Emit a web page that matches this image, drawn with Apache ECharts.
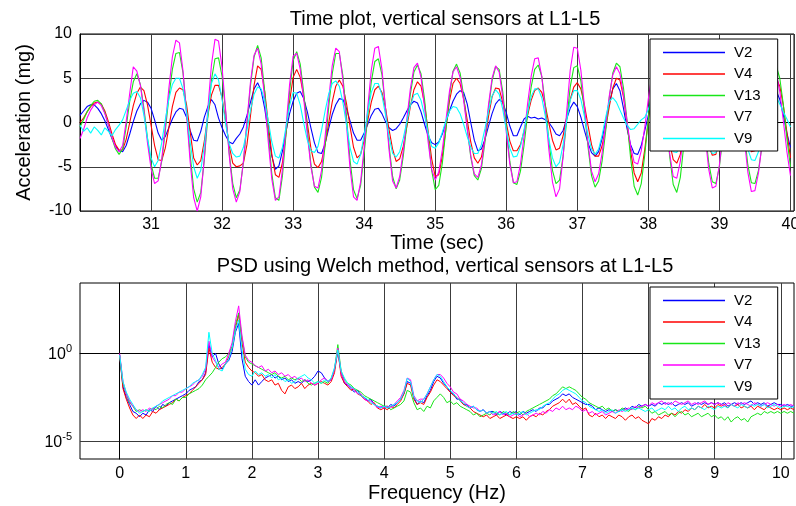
<!DOCTYPE html>
<html>
<head>
<meta charset="utf-8">
<script src="https://cdn.jsdelivr.net/npm/echarts@6/dist/echarts.min.js"></script>
<style>
  html, body { margin: 0; padding: 0; background: #fff; }
  #chart { width: 796px; height: 506px; }
</style>
</head>
<body>
<div id="chart"></div>
<script>
var sensorNames = ['V2', 'V4', 'V13', 'V7', 'V9']
var sensorColors = ['#0000ff', '#ff0000', '#19e619', '#ff00ff', '#00ffff']

// time plot: acceleration (mg), one sample every 0.05 s starting at 30 s
var timeStart = 30
var timeStep = 0.05
var timeTicks = [31, 32, 33, 34, 35, 36, 37, 38, 39, 40]
var accelTicks = [-10, -5, 0, 5, 10]

var accV2 = [
  0.8, 1.3, 1.8, 2.0, 2.0, 1.6, 1.0, 0.2, -0.8, -1.8, -2.7, -3.2, -3.3, -2.6, -1.3, 0.1, 1.3, 2.1, 2.5, 2.3,
  1.6, 0.3, -1.2, -2.0, -1.6, -0.6, 0.4, 1.2, 1.6, 1.5, 0.6, -0.9, -2.0, -2.1, -1.0, 0.6, 1.8, 2.6, 2.0, 0.5,
  -0.6, -1.5, -2.2, -2.4, -1.8, -1.3, -0.5, 0.8, 2.3, 3.8, 4.5, 3.6, 1.6, -1.2, -3.8, -5.3, -4.9, -3.2, -1.0, 1.0,
  2.4, 3.3, 3.5, 2.7, 1.2, -0.6, -2.3, -3.4, -3.5, -2.4, -0.7, 0.9, 2.0, 2.7, 2.6, 1.6, 0.2, -1.2, -2.0, -2.0,
  -1.2, -0.2, 0.8, 1.5, 1.6, 1.0, 0.1, -0.6, -0.9, -0.7, -0.2, 0.5, 1.3, 2.0, 2.4, 2.2, 1.2, -0.2, -1.5, -2.3,
  -2.5, -2.2, -1.3, 0.0, 1.3, 2.4, 3.2, 3.6, 3.4, 2.1, 0.0, -2.0, -3.2, -3.0, -1.9, -0.4, 1.0, 2.1, 2.6, 2.3,
  1.1, -0.4, -1.5, -1.5, -0.5, 0.4, 0.7, 0.5, 0.6, 0.4, 0.5, 0.3, 0.0, -0.6, -1.3, -1.5, -0.9, 0.4, 1.6, 2.3,
  1.8, 0.6, -0.9, -2.3, -3.4, -3.8, -3.3, -1.8, 0.2, 2.2, 3.8, 4.4, 3.6, 1.6, -0.7, -2.5, -3.5, -3.6, -2.6, -0.9,
  0.8, 2.0, 2.5, 2.1, 0.9, -0.6, -1.9, -2.6, -2.5, -1.6, -0.2, 1.2, 2.2, 2.5, 2.0, 0.8, -0.6, -1.9, -2.6, -2.5,
  -1.6, -0.2, 1.2, 2.2, 2.6, 2.1, 0.8, -0.7, -2.0, -2.7, -2.6, -1.7, -0.3, 1.2, 2.6, 3.5, 3.6, 2.6, 0.8, -1.2,
  -2.8
]
var accV4 = [
  0.0, 0.5, 1.2, 1.8, 2.2, 2.3, 2.1, 1.3, 0.1, -1.3, -2.5, -3.1, -3.1, -1.9, 0.0, 1.9, 3.3, 4.0, 3.6, 2.0,
  -0.3, -2.6, -4.2, -4.3, -2.9, -0.6, 1.8, 3.4, 3.9, 3.7, 2.0, -1.0, -4.0, -4.8, -4.3, -2.1, 0.8, 3.1, 4.2, 4.2,
  2.8, 0.2, -2.6, -4.6, -5.0, -4.9, -4.6, -2.5, 0.8, 4.2, 6.4, 6.0, 3.5, -0.1, -3.6, -5.9, -6.2, -4.5, -1.2, 2.4,
  5.1, 6.0, 5.1, 2.9, -0.1, -2.9, -4.7, -5.1, -4.4, -2.5, -0.1, 2.3, 4.1, 4.8, 4.1, 2.2, -0.4, -2.8, -4.0, -3.6,
  -2.0, 0.2, 2.3, 3.7, 4.1, 3.4, 1.6, -0.8, -3.0, -4.4, -4.1, -2.7, -0.5, 1.8, 3.7, 4.6, 4.1, 2.1, -1.0, -4.1,
  -6.1, -5.9, -3.8, -0.7, 2.4, 4.4, 5.0, 4.4, 2.7, 0.3, -2.2, -4.0, -4.6, -3.9, -1.9, 0.7, 2.9, 3.9, 3.8, 2.3,
  0.0, -2.1, -3.2, -3.2, -2.5, -1.0, 0.8, 2.5, 3.6, 3.9, 3.4, 1.9, -0.1, -2.0, -3.1, -2.9, -1.5, 0.6, 2.6, 4.0,
  4.5, 3.8, 2.0, -0.3, -2.5, -3.8, -3.8, -2.6, -0.6, 1.8, 3.9, 5.0, 4.8, 2.9, -0.1, -3.2, -5.7, -6.7, -5.7, -3.0,
  0.3, 3.2, 4.8, 4.9, 3.4, 0.7, -2.3, -4.2, -4.6, -3.6, -1.2, 1.5, 3.6, 4.5, 4.0, 2.1, -0.4, -2.6, -3.7, -3.6,
  -2.2, 0.1, 2.4, 4.0, 4.5, 3.9, 2.0, -0.4, -2.4, -3.3, -3.2, -2.2, -0.5, 1.5, 3.3, 4.6, 5.0, 4.1, 1.9, -1.1,
  -4.0
]
var accV13 = [
  -0.5, 0.3, 1.2, 1.9, 2.4, 2.5, 2.1, 1.1, -0.3, -1.8, -3.0, -3.6, -3.0, -0.5, 2.4, 4.6, 5.5, 4.3, 1.6, -1.8,
  -4.7, -6.3, -6.3, -4.4, -1.0, 2.8, 6.0, 7.8, 7.9, 5.6, 1.3, -3.6, -7.5, -9.0, -7.9, -4.2, 0.7, 4.8, 7.2, 7.3,
  5.2, 1.2, -3.4, -6.9, -8.5, -7.6, -4.5, -0.2, 4.2, 7.4, 8.7, 7.3, 3.5, -1.4, -5.8, -8.5, -8.8, -6.0, -1.3, 3.5,
  7.0, 8.0, 6.6, 3.3, -0.8, -4.7, -7.3, -7.9, -6.2, -2.6, 1.7, 5.5, 7.8, 7.8, 5.3, 0.8, -4.2, -7.6, -8.6, -7.1,
  -3.5, 0.8, 4.6, 6.9, 7.2, 5.4, 1.7, -2.6, -6.1, -7.5, -6.5, -3.8, -0.3, 3.2, 5.7, 6.5, 5.5, 2.6, -1.5, -5.4,
  -7.6, -7.1, -4.6, -0.8, 3.0, 5.8, 6.6, 5.6, 3.0, -0.6, -3.9, -6.0, -6.5, -5.2, -2.2, 1.6, 4.7, 6.3, 6.0, 3.5,
  -0.4, -4.4, -6.8, -7.0, -5.5, -2.6, 0.9, 4.0, 6.0, 6.5, 5.2, 2.0, -2.1, -5.4, -6.9, -6.5, -3.8, 0.2, 4.0, 6.2,
  6.4, 4.7, 1.3, -2.7, -6.0, -7.3, -6.6, -4.3, -0.9, 2.8, 5.6, 6.7, 6.3, 3.9, 0.2, -4.0, -7.2, -8.2, -6.9, -3.6,
  0.4, 4.2, 6.6, 6.8, 4.6, 0.6, -3.8, -7.0, -7.9, -6.2, -2.5, 1.9, 5.2, 6.9, 6.2, 3.2, -0.8, -4.6, -6.7, -6.9,
  -5.0, -1.5, 2.5, 5.5, 6.9, 6.0, 3.0, -1.1, -4.8, -6.8, -6.9, -5.4, -2.6, 0.8, 3.9, 5.9, 6.4, 5.0, 2.0, -1.8,
  -5.0
]
var accV7 = [
  -1.8, -0.8, 0.5, 1.4, 2.0, 2.3, 1.9, 1.0, -0.3, -1.7, -2.8, -3.3, -2.6, 0.1, 3.3, 6.3, 5.8, 4.2, 1.3, -2.3,
  -5.2, -6.9, -6.6, -4.2, -0.5, 3.8, 7.4, 9.3, 9.0, 5.8, 0.9, -4.4, -8.5, -10.0, -8.4, -4.0, 1.6, 6.5, 9.4, 9.2,
  6.2, 1.4, -3.7, -7.5, -9.0, -7.8, -4.4, 0.2, 4.6, 7.6, 8.4, 6.6, 2.6, -2.2, -6.4, -8.8, -8.4, -5.3, -0.5, 4.3,
  7.5, 7.8, 6.0, 2.6, -1.4, -5.0, -7.2, -7.4, -5.4, -1.6, 2.6, 6.4, 8.4, 8.0, 4.8, -0.2, -5.1, -8.4, -8.8, -6.7,
  -2.8, 1.7, 5.9, 8.4, 8.6, 6.0, 1.7, -3.1, -6.6, -7.4, -6.1, -3.2, 0.4, 3.8, 6.2, 6.7, 5.1, 1.7, -2.2, -5.3,
  -6.5, -5.6, -3.1, 0.2, 3.5, 5.7, 6.3, 5.1, 2.5, -0.7, -3.7, -5.8, -6.2, -4.8, -1.8, 2.0, 5.0, 6.4, 5.7, 2.9,
  -1.1, -4.7, -6.8, -6.7, -4.7, -1.6, 2.1, 5.2, 7.2, 7.3, 5.2, 1.3, -3.1, -6.7, -8.4, -7.5, -3.9, 1.2, 5.9, 8.5,
  8.4, 5.9, 1.9, -2.3, -5.5, -6.7, -5.8, -3.4, -0.2, 3.0, 5.4, 6.3, 5.5, 3.1, 0.1, -2.7, -4.5, -4.7, -3.2, -0.5,
  2.7, 5.4, 6.9, 6.6, 4.1, 0.2, -3.5, -6.1, -6.3, -4.4, -0.9, 2.9, 5.8, 7.0, 5.8, 2.6, -1.6, -5.3, -7.4, -7.2,
  -4.8, -1.1, 2.8, 5.9, 7.0, 5.8, 2.5, -1.8, -5.6, -7.8, -7.7, -5.7, -2.5, 1.2, 4.2, 5.8, 5.6, 3.5, 0.2, -3.3,
  -6.0
]
var accV9 = [
  -0.3, -1.0, -0.6, -1.2, -0.5, -0.9, -1.4, -0.6, -1.0, -1.5, -0.8, -0.3, 0.3, 1.4, 2.5, 3.3, 3.5, 2.8, 0.8, -1.8,
  -4.0, -5.0, -4.3, -2.3, 0.3, 2.6, 4.3, 5.0, 5.0, 3.8, 1.2, -2.2, -5.0, -6.3, -5.4, -2.6, 1.1, 4.4, 5.5, 4.8,
  2.6, -0.2, -2.4, -3.5, -3.9, -3.8, -2.8, -0.9, 1.4, 3.2, 4.0, 3.8, 2.4, 0.2, -2.2, -3.8, -4.0, -2.8, -0.5, 1.9,
  3.4, 3.3, 2.0, -0.1, -2.0, -3.2, -3.4, -2.7, -0.9, 1.3, 3.2, 4.4, 4.7, 4.1, 2.3, -0.2, -2.8, -4.4, -4.7, -3.6,
  -1.4, 1.2, 3.4, 4.4, 4.4, 3.1, 0.9, -1.6, -3.5, -3.9, -3.3, -1.8, 0.1, 1.9, 3.1, 3.3, 2.5, 0.8, -1.2, -2.7,
  -2.9, -2.3, -1.1, 0.2, 1.3, 1.8, 1.7, 1.0, -0.2, -1.6, -2.8, -3.5, -3.5, -2.5, -0.7, 1.3, 3.0, 3.7, 3.2, 1.5,
  -0.8, -2.9, -3.9, -3.8, -2.7, -0.8, 1.2, 2.9, 3.8, 3.8, 2.8, 0.7, -1.9, -4.0, -5.0, -4.5, -2.5, 0.2, 2.5, 3.6,
  3.6, 2.6, 0.7, -1.4, -3.0, -3.6, -3.0, -1.4, 0.6, 2.4, 2.8, 2.3, 1.4, 0.5, -0.3, -0.8, -0.7, -0.2, 0.3, 0.6,
  1.5, 2.6, 3.0, 2.6, 1.2, -0.6, -2.3, -3.3, -3.4, -2.5, -0.8, 1.2, 2.6, 3.0, 2.5, 1.0, -0.9, -2.6, -3.5, -3.4,
  -2.3, -0.5, 1.3, 2.6, 3.0, 2.4, 0.9, -1.1, -3.0, -4.2, -4.3, -3.3, -1.6, 0.4, 2.1, 3.0, 2.9, 2.1, 1.2, 0.4,
  -0.5
]

// PSD (Welch): log10 of the spectral density, one value every 0.05 Hz from 0 Hz
var freqStart = 0
var freqStep = 0.05
var freqTicks = [0, 1, 2, 3, 4, 5, 6, 7, 8, 9, 10]
var psdDecadeTicks = [-5, 0]

var psdV2 = [
  -0.1, -1.9, -2.5, -2.9, -3.3, -3.4, -3.6, -3.4, -3.5, -3.2, -3.3, -3.0, -3.2, -2.9, -3.0, -2.8, -2.7, -2.6, -2.5, -2.4,
  -2.3, -2.1, -2.0, -1.9, -1.6, -1.5, -1.1, 0.5, -0.2, 0.0, -0.6, -0.9, -0.6, -0.4, 0.1, 1.2, 1.7, -0.3, -1.3, -1.6,
  -1.8, -1.5, -1.8, -1.6, -1.4, -1.3, -1.2, -1.4, -1.3, -1.5, -1.4, -1.6, -1.5, -1.7, -1.6, -1.7, -1.5, -1.6, -1.5, -1.3,
  -1.0, -1.1, -1.4, -1.6, -1.5, -0.9, 0.1, -1.1, -1.7, -1.8, -2.0, -2.2, -2.1, -2.4, -2.5, -2.7, -2.6, -2.9, -3.0, -3.1,
  -3.0, -3.1, -2.9, -3.0, -2.8, -2.6, -2.3, -1.6, -1.7, -2.5, -2.9, -2.7, -2.8, -2.4, -2.1, -1.6, -1.3, -1.4, -1.7, -1.9,
  -2.2, -2.3, -2.6, -2.6, -2.9, -2.9, -3.1, -3.0, -3.2, -3.3, -3.2, -3.4, -3.3, -3.3, -3.5, -3.3, -3.4, -3.5, -3.3, -3.4,
  -3.3, -3.5, -3.3, -3.4, -3.3, -3.2, -3.3, -3.1, -3.1, -2.9, -2.9, -2.7, -2.6, -2.5, -2.3, -2.4, -2.3, -2.5, -2.6, -2.7,
  -2.8, -2.9, -2.9, -3.0, -3.2, -3.1, -3.2, -3.3, -3.2, -3.3, -3.2, -3.3, -3.2, -3.1, -3.2, -3.0, -3.1, -2.9, -3.0, -2.9,
  -3.0, -2.9, -3.0, -2.8, -2.9, -2.8, -2.9, -2.8, -3.0, -2.9, -2.8, -2.9, -2.8, -3.0, -2.9, -2.8, -2.9, -2.8, -2.9, -2.8,
  -2.9, -2.8, -2.9, -2.8, -3.0, -2.9, -2.8, -2.9, -2.8, -2.9, -2.8, -2.7, -2.9, -2.8, -2.9, -2.8, -3.0, -2.9, -2.8, -2.9,
  -2.9, -3.0, -2.9, -3.0, -3.0
]
var psdV4 = [
  -0.1, -2.0, -2.6, -3.1, -3.5, -3.7, -3.5, -3.7, -3.5, -3.6, -3.3, -3.4, -3.2, -3.1, -3.0, -2.9, -2.8, -2.6, -2.7, -2.5,
  -2.4, -2.3, -2.1, -1.9, -1.7, -1.5, -1.2, 0.3, -0.5, -0.8, -0.9, -0.8, -0.6, -0.2, 0.3, 1.4, 2.2, 0.6, -0.5, -0.8,
  -1.0, -1.1, -1.3, -1.2, -1.5, -1.6, -1.5, -1.8, -1.7, -2.1, -2.3, -1.9, -1.8, -2.0, -1.9, -1.7, -2.0, -1.8, -1.7, -1.8,
  -1.7, -1.6, -1.7, -1.8, -1.6, -1.1, 0.2, -1.3, -1.7, -1.9, -2.1, -2.0, -2.3, -2.4, -2.6, -2.7, -2.9, -2.8, -3.1, -3.2,
  -3.1, -3.2, -3.0, -3.1, -2.9, -2.7, -2.3, -1.7, -1.8, -2.6, -2.9, -2.8, -2.9, -2.5, -2.2, -1.8, -1.5, -1.6, -1.8, -2.0,
  -2.2, -2.4, -2.5, -2.7, -2.9, -3.0, -3.1, -3.3, -3.4, -3.5, -3.6, -3.5, -3.7, -3.6, -3.5, -3.7, -3.6, -3.5, -3.6, -3.7,
  -3.6, -3.7, -3.6, -3.8, -3.6, -3.5, -3.6, -3.4, -3.5, -3.3, -3.2, -3.0, -2.9, -2.8, -2.6, -2.8, -2.6, -2.9, -2.8, -3.0,
  -3.2, -3.1, -3.5, -3.6, -3.4, -3.6, -3.5, -3.7, -3.5, -3.6, -3.7, -3.5, -3.6, -3.8, -3.6, -3.5, -3.7, -3.6, -3.8, -3.9,
  -4.0, -3.7, -3.8, -3.6, -3.7, -3.5, -3.6, -3.4, -3.5, -3.3, -3.4, -3.2, -3.3, -3.1, -3.2, -3.0, -3.1, -2.9, -3.1, -3.0,
  -3.1, -2.9, -3.0, -2.9, -3.1, -2.9, -3.0, -2.9, -3.1, -3.0, -3.1, -3.0, -3.2, -3.0, -3.1, -3.2, -3.0, -3.1, -3.2, -3.1,
  -3.2, -3.1, -3.2, -3.1, -3.2
]
var psdV13 = [
  -0.1, -1.7, -2.3, -2.8, -3.0, -3.3, -3.2, -3.3, -3.2, -3.3, -3.1, -3.2, -3.0, -3.1, -2.9, -2.8, -2.9, -2.6, -2.7, -2.5,
  -2.5, -2.3, -2.2, -2.1, -2.0, -1.8, -1.5, -1.3, -1.1, -0.8, -0.5, -0.3, -0.2, 0.0, 0.4, 1.6, 2.3, 0.9, -0.2, -0.5,
  -0.6, -0.7, -0.8, -0.9, -1.0, -1.1, -1.2, -1.1, -1.3, -1.4, -1.3, -1.5, -1.4, -1.5, -1.4, -1.6, -1.5, -1.7, -1.8, -1.7,
  -1.6, -1.7, -1.6, -1.7, -1.4, -0.9, 0.5, -1.0, -1.5, -1.7, -1.8, -2.0, -2.1, -2.2, -2.4, -2.5, -2.6, -2.7, -2.8, -2.9,
  -3.0, -3.0, -3.2, -3.1, -3.0, -2.9, -2.7, -2.1, -2.2, -2.8, -3.2, -3.1, -3.3, -3.0, -3.1, -2.7, -2.5, -2.3, -2.5, -2.8,
  -2.7, -2.9, -2.8, -3.0, -3.1, -3.2, -3.3, -3.5, -3.4, -3.6, -3.5, -3.4, -3.5, -3.3, -3.4, -3.5, -3.3, -3.4, -3.5, -3.3,
  -3.4, -3.3, -3.5, -3.3, -3.2, -3.1, -3.0, -2.9, -2.8, -2.7, -2.6, -2.4, -2.3, -2.1, -1.9, -2.0, -1.9, -2.0, -2.1, -2.3,
  -2.5, -2.6, -2.8, -2.9, -3.0, -3.1, -3.0, -3.2, -3.1, -3.3, -3.2, -3.3, -3.1, -3.2, -3.3, -3.1, -3.2, -3.0, -3.1, -3.0,
  -3.2, -3.4, -3.3, -3.5, -3.4, -3.3, -3.5, -3.4, -3.6, -3.4, -3.3, -3.5, -3.4, -3.6, -3.5, -3.4, -3.6, -3.5, -3.4, -3.6,
  -3.5, -3.7, -3.6, -3.8, -3.6, -3.9, -3.7, -3.6, -3.8, -3.7, -3.9, -3.6, -3.5, -3.4, -3.5, -3.3, -3.4, -3.3, -3.4, -3.3,
  -3.4, -3.3, -3.4, -3.3, -3.4
]
var psdV7 = [
  0.0, -1.6, -2.3, -2.7, -3.0, -3.2, -3.3, -3.2, -3.3, -3.1, -3.2, -3.0, -2.9, -2.8, -2.7, -2.6, -2.4, -2.4, -2.2, -2.2,
  -2.0, -1.9, -1.8, -1.6, -1.5, -1.3, -0.9, 0.7, -0.2, -0.5, -0.8, -0.6, -0.5, 0.0, 0.6, 1.8, 2.7, 1.0, -0.1, -0.4,
  -0.5, -0.7, -0.8, -0.7, -1.0, -0.9, -1.1, -1.0, -1.2, -1.1, -1.3, -1.2, -1.4, -1.3, -1.5, -1.4, -1.6, -1.5, -1.7, -1.8,
  -1.7, -1.5, -1.4, -1.6, -1.5, -0.9, 0.3, -1.1, -1.6, -1.8, -1.9, -2.1, -2.3, -2.3, -2.6, -2.7, -2.7, -2.9, -3.1, -3.0,
  -3.1, -3.0, -3.1, -2.9, -2.7, -2.5, -2.1, -1.4, -1.5, -2.4, -2.7, -2.6, -2.6, -2.3, -1.9, -1.5, -1.2, -1.2, -1.4, -1.7,
  -1.9, -2.2, -2.3, -2.6, -2.7, -2.9, -3.0, -3.1, -3.1, -3.3, -3.2, -3.4, -3.3, -3.5, -3.4, -3.3, -3.5, -3.4, -3.6, -3.5,
  -3.4, -3.6, -3.5, -3.4, -3.6, -3.5, -3.4, -3.5, -3.3, -3.4, -3.2, -3.3, -3.1, -3.2, -3.0, -3.2, -3.1, -3.2, -3.0, -3.1,
  -3.3, -3.2, -3.4, -3.3, -3.5, -3.4, -3.3, -3.5, -3.4, -3.3, -3.4, -3.2, -3.3, -3.2, -3.1, -3.2, -3.0, -3.1, -3.0, -2.9,
  -3.0, -2.8, -2.9, -2.8, -2.7, -2.9, -2.8, -2.9, -2.7, -2.8, -2.9, -2.8, -2.7, -2.9, -2.8, -2.9, -2.8, -2.7, -2.9, -2.8,
  -2.9, -2.8, -2.9, -3.0, -2.8, -2.9, -3.0, -2.8, -2.9, -2.8, -2.9, -3.0, -2.8, -2.9, -3.0, -2.9, -2.8, -2.9, -3.0, -2.9,
  -3.0, -2.9, -3.0, -2.9, -3.0
]
var psdV9 = [
  -0.1, -1.6, -2.2, -2.6, -2.9, -3.2, -3.4, -3.3, -3.2, -3.3, -3.1, -3.0, -2.9, -2.7, -2.6, -2.5, -2.4, -2.3, -2.2, -2.1,
  -2.0, -1.9, -1.7, -1.6, -1.5, -1.2, -0.8, 1.2, 0.0, -0.4, -0.9, -1.0, -0.6, -0.3, 0.3, 1.3, 1.9, 0.2, -0.9, -1.2,
  -1.3, -1.0, -1.2, -1.1, -1.3, -1.2, -1.4, -1.2, -1.5, -1.4, -1.6, -1.5, -1.7, -1.6, -1.4, -1.3, -1.2, -1.4, -1.5, -1.7,
  -1.6, -1.7, -1.5, -1.6, -1.4, -0.8, 0.2, -1.0, -1.4, -1.7, -1.9, -2.0, -2.2, -2.4, -2.5, -2.6, -2.8, -2.9, -3.0, -3.1,
  -3.0, -3.1, -3.0, -2.9, -2.8, -2.6, -2.2, -1.4, -1.6, -2.5, -2.7, -2.8, -2.6, -2.3, -1.9, -1.5, -1.2, -1.3, -1.6, -1.9,
  -2.1, -2.3, -2.5, -2.7, -2.8, -3.0, -3.1, -3.0, -3.2, -3.3, -3.2, -3.4, -3.3, -3.4, -3.3, -3.5, -3.4, -3.3, -3.5, -3.4,
  -3.5, -3.4, -3.3, -3.5, -3.4, -3.3, -3.2, -3.2, -3.0, -2.9, -2.8, -2.6, -2.4, -2.3, -2.1, -2.0, -2.1, -2.2, -2.3, -2.5,
  -2.7, -2.8, -3.0, -3.1, -3.2, -3.3, -3.2, -3.4, -3.3, -3.2, -3.4, -3.3, -3.2, -3.3, -3.2, -3.1, -3.2, -3.1, -3.2, -3.3,
  -3.2, -3.1, -3.3, -3.2, -3.1, -3.2, -3.0, -3.2, -3.1, -3.3, -3.1, -3.0, -3.2, -3.1, -3.2, -3.0, -3.1, -3.2, -3.0, -3.1,
  -3.2, -3.0, -3.1, -3.0, -3.1, -2.9, -3.0, -3.1, -2.9, -3.0, -3.1, -2.9, -3.0, -2.9, -3.0, -2.9, -3.1, -3.0, -2.9, -3.0,
  -3.1, -3.0, -3.0, -3.1, -3.0
]

var accSeries = [accV2, accV4, accV13, accV7, accV9]
var psdSeries = [psdV2, psdV4, psdV13, psdV7, psdV9]

var font = 'Liberation Sans, Arial, Helvetica, sans-serif'
var gridColor = '#3c3c3c'

function sampled (start, step, values) {
  return values.map(function (v, i) {
    return [Math.round((start + i * step) * 100) / 100, v]
  })
}

function onTicks (ticks) {
  return function (v) {
    for (var i = 0; i < ticks.length; i++) {
      if (Math.abs(v - ticks[i]) < 1e-6) return String(ticks[i])
    }
    return ''
  }
}

var series = []
sensorNames.forEach(function (name, k) {
  series.push({
    name: name,
    type: 'line',
    xAxisIndex: 0,
    yAxisIndex: 0,
    symbol: 'none',
    color: sensorColors[k],
    lineStyle: { width: 1.1, color: sensorColors[k] },
    data: sampled(timeStart, timeStep, accSeries[k])
  })
})
sensorNames.forEach(function (name, k) {
  series.push({
    name: name,
    type: 'line',
    xAxisIndex: 1,
    yAxisIndex: 1,
    symbol: 'none',
    color: sensorColors[k],
    lineStyle: { width: 1, color: sensorColors[k] },
    data: sampled(freqStart, freqStep, psdSeries[k])
  })
})

var legendBase = {
  data: sensorNames,
  orient: 'vertical',
  left: 650,
  icon: 'rect',
  itemWidth: 62,
  itemHeight: 1.5,
  itemGap: 6.5,
  padding: [6, 17, 5, 13],
  backgroundColor: '#fff',
  borderColor: '#000',
  borderWidth: 1,
  borderRadius: 0,
  selectedMode: false,
  textStyle: { fontFamily: font, fontSize: 15, color: '#000', lineHeight: 15, padding: [0, 0, 0, 4] }
}

var chart = echarts.init(document.getElementById('chart'))
chart.setOption({
  animation: false,
  backgroundColor: '#fff',
  textStyle: { fontFamily: font },
  graphic: [
    {
      type: 'text', x: 445, y: 9,
      style: { text: 'Time plot, vertical sensors at L1-L5', fontSize: 20, fontFamily: font, fill: '#000', align: 'center', verticalAlign: 'top' }
    },
    {
      type: 'text', x: 445, y: 256,
      style: { text: 'PSD using Welch method, vertical sensors at L1-L5', fontSize: 20, fontFamily: font, fill: '#000', align: 'center', verticalAlign: 'top' }
    }
  ],
  legend: [
    Object.assign({}, legendBase, { top: 39 }),
    Object.assign({}, legendBase, { top: 287 })
  ],
  grid: [
    { left: 80, right: 2, top: 34, height: 177, show: true, borderColor: '#000', borderWidth: 1, backgroundColor: '#fff', containLabel: false, outerBoundsMode: 'none' },
    { left: 80, right: 2, top: 283, height: 176, show: true, borderColor: '#000', borderWidth: 1, backgroundColor: '#fff', containLabel: false, outerBoundsMode: 'none' }
  ],
  xAxis: [
    {
      type: 'value', gridIndex: 0, min: 30, max: 40.05, interval: 1,
      name: 'Time (sec)', nameLocation: 'middle', nameGap: 20,
      nameTextStyle: { fontSize: 20, color: '#000', fontFamily: font },
      axisLine: { lineStyle: { color: '#000', width: 1 } },
      axisTick: { show: false },
      axisLabel: { color: '#000', fontSize: 16, margin: 6, formatter: onTicks(timeTicks) },
      splitLine: { show: true, lineStyle: { color: gridColor, width: 1 } }
    },
    {
      // the frequency axis starts at -0.6, so its ticks are given explicitly
      type: 'value', gridIndex: 1, min: -0.6, max: 10.2,
      name: 'Frequency (Hz)', nameLocation: 'middle', nameGap: 24,
      nameTextStyle: { fontSize: 20, color: '#000', fontFamily: font },
      axisLine: { lineStyle: { color: '#000', width: 1 } },
      axisTick: { show: false, customValues: freqTicks },
      axisLabel: { color: '#000', fontSize: 16, margin: 7, customValues: freqTicks, formatter: onTicks(freqTicks) },
      splitLine: { show: true, customValues: freqTicks, lineStyle: { color: gridColor, width: 1 } }
    }
  ],
  yAxis: [
    {
      type: 'value', gridIndex: 0, min: -10, max: 10, interval: 5,
      name: 'Acceleration (mg)', nameLocation: 'middle', nameGap: 46, nameRotate: 90,
      nameTextStyle: { fontSize: 20, color: '#000', fontFamily: font },
      axisLine: { lineStyle: { color: '#000', width: 1 } },
      axisTick: { show: false },
      axisLabel: { color: '#000', fontSize: 16, margin: 8, formatter: onTicks(accelTicks) },
      splitLine: { show: true, lineStyle: { color: gridColor, width: 1 } }
    },
    {
      type: 'value', gridIndex: 1, min: -6, max: 4, interval: 1,
      axisLine: { lineStyle: { color: '#000', width: 1 } },
      axisTick: { show: false },
      axisLabel: {
        color: '#000', margin: 8,
        formatter: function (v) {
          for (var i = 0; i < psdDecadeTicks.length; i++) {
            if (Math.abs(v - psdDecadeTicks[i]) < 1e-6) return '{b|10}{s|' + psdDecadeTicks[i] + '}'
          }
          return ''
        },
        rich: {
          b: { fontSize: 16, color: '#000', fontFamily: font, verticalAlign: 'bottom' },
          s: { fontSize: 11, color: '#000', fontFamily: font, verticalAlign: 'top', padding: [0, 0, 8, 0] }
        }
      },
      // only the 10^-5 and 10^0 decades carry a grid line
      splitLine: {
        show: true,
        lineStyle: { color: ['rgba(0,0,0,0)', gridColor, 'rgba(0,0,0,0)', 'rgba(0,0,0,0)', 'rgba(0,0,0,0)'], width: 1 }
      }
    }
  ],
  series: series
})
</script>
</body>
</html>
